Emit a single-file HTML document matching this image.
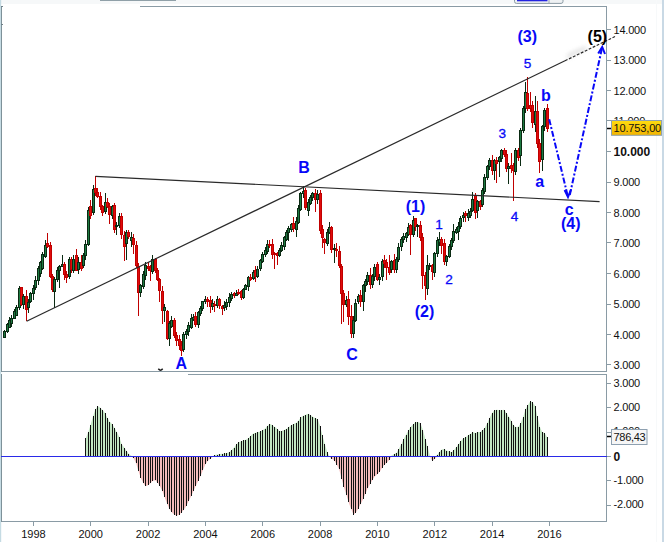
<!DOCTYPE html>
<html><head><meta charset="utf-8"><style>
html,body{margin:0;padding:0;background:#fff;width:664px;height:542px;overflow:hidden;position:relative}
text{font-family:"Liberation Sans",sans-serif}
</style></head><body>
<svg width="664" height="542" viewBox="0 0 664 542" style="position:absolute;left:0;top:0">
<rect x="0" y="0" width="664" height="4" fill="#f6f8f9"/>
<rect x="0" y="0" width="1.2" height="542" fill="#c5dbe3"/>
<rect x="662" y="0" width="2" height="542" fill="#c9d9e5"/>
<rect x="656" y="0" width="1" height="542" fill="#f7f9fa"/>
<rect x="100" y="0" width="76" height="1" fill="#90a0a8"/>
<rect x="514.5" y="-3" width="48.5" height="6.4" rx="2" fill="#eef1f3" stroke="#8a9aa4" stroke-width="1"/>
<rect x="517" y="0" width="30.5" height="1.3" fill="#2424e0"/>
<rect x="548.5" y="-1" width="1" height="4" fill="#9aa8b0"/>
<g shape-rendering="crispEdges">
<line x1="140" y1="6.5" x2="607" y2="6.5" stroke="#8a9ba5" stroke-width="1"/>
<line x1="606.5" y1="6" x2="606.5" y2="371.5" stroke="#8a9ba5" stroke-width="1"/>
<line x1="1" y1="371.5" x2="607" y2="371.5" stroke="#8a9ba5" stroke-width="1"/>
<line x1="1.5" y1="6" x2="1.5" y2="371.5" stroke="#7e9199" stroke-width="1"/>
<line x1="188" y1="374.5" x2="607" y2="374.5" stroke="#8a9ba5" stroke-width="1"/>
<line x1="606.5" y1="374" x2="606.5" y2="521.5" stroke="#8a9ba5" stroke-width="1"/>
<line x1="1" y1="521.5" x2="607" y2="521.5" stroke="#8a9ba5" stroke-width="1"/>
<line x1="1.5" y1="374" x2="1.5" y2="521.5" stroke="#7e9199" stroke-width="1"/>
<line x1="1" y1="6.5" x2="3" y2="6.5" stroke="#6f8189" stroke-width="1"/>
<line x1="1" y1="24.5" x2="3" y2="24.5" stroke="#6f8189" stroke-width="1"/>
</g>
<g shape-rendering="crispEdges">
<line x1="607" y1="364.5" x2="611" y2="364.5" stroke="#8a9ba5" stroke-width="1"/>
<line x1="607" y1="334.5" x2="611" y2="334.5" stroke="#8a9ba5" stroke-width="1"/>
<line x1="607" y1="304.5" x2="611" y2="304.5" stroke="#8a9ba5" stroke-width="1"/>
<line x1="607" y1="273.5" x2="611" y2="273.5" stroke="#8a9ba5" stroke-width="1"/>
<line x1="607" y1="242.5" x2="611" y2="242.5" stroke="#8a9ba5" stroke-width="1"/>
<line x1="607" y1="212.5" x2="611" y2="212.5" stroke="#8a9ba5" stroke-width="1"/>
<line x1="607" y1="182.5" x2="611" y2="182.5" stroke="#8a9ba5" stroke-width="1"/>
<line x1="607" y1="151.5" x2="611" y2="151.5" stroke="#8a9ba5" stroke-width="1"/>
<line x1="607" y1="120.5" x2="611" y2="120.5" stroke="#8a9ba5" stroke-width="1"/>
<line x1="607" y1="90.5" x2="611" y2="90.5" stroke="#8a9ba5" stroke-width="1"/>
<line x1="607" y1="60.5" x2="611" y2="60.5" stroke="#8a9ba5" stroke-width="1"/>
<line x1="607" y1="29.5" x2="611" y2="29.5" stroke="#8a9ba5" stroke-width="1"/>
</g>
<g font-family="Liberation Sans, sans-serif" font-size="11" fill="#111" letter-spacing="-0.2">
<text x="613.5" y="369.0">3.000</text>
<text x="613.5" y="338.5">4.000</text>
<text x="613.5" y="308.0">5.000</text>
<text x="613.5" y="277.5">6.000</text>
<text x="613.5" y="247.0">7.000</text>
<text x="613.5" y="216.5">8.000</text>
<text x="613.5" y="186.0">9.000</text>
<text x="613.5" y="155.7" font-weight="bold" font-size="12" letter-spacing="0">10.000</text>
<text x="613.5" y="125.0">11.000</text>
<text x="613.5" y="94.5">12.000</text>
<text x="613.5" y="64.0">13.000</text>
<text x="613.5" y="33.5">14.000</text>
<text x="613.5" y="386.6">3.000</text>
<text x="613.5" y="411.0">2.000</text>
<text x="613.5" y="435.3">1.000</text>
<text x="613.5" y="460.6" font-weight="bold" font-size="12" letter-spacing="0">0</text>
<text x="613.5" y="484.1">-1.000</text>
<text x="613.5" y="508.4">-2.000</text>
</g>
<g font-family="Liberation Sans, sans-serif" font-size="11" fill="#111">
<text x="33.4" y="538" text-anchor="middle">1998</text>
<text x="90.7" y="538" text-anchor="middle">2000</text>
<text x="148.1" y="538" text-anchor="middle">2002</text>
<text x="205.4" y="538" text-anchor="middle">2004</text>
<text x="262.8" y="538" text-anchor="middle">2006</text>
<text x="320.1" y="538" text-anchor="middle">2008</text>
<text x="377.4" y="538" text-anchor="middle">2010</text>
<text x="434.8" y="538" text-anchor="middle">2012</text>
<text x="492.1" y="538" text-anchor="middle">2014</text>
<text x="549.5" y="538" text-anchor="middle">2016</text>
</g>
<g shape-rendering="crispEdges">
<line x1="607" y1="383.5" x2="611" y2="383.5" stroke="#8a9ba5" stroke-width="1"/>
<line x1="607" y1="407.5" x2="611" y2="407.5" stroke="#8a9ba5" stroke-width="1"/>
<line x1="607" y1="432.5" x2="611" y2="432.5" stroke="#8a9ba5" stroke-width="1"/>
<line x1="607" y1="456.5" x2="611" y2="456.5" stroke="#8a9ba5" stroke-width="1"/>
<line x1="607" y1="480.5" x2="611" y2="480.5" stroke="#8a9ba5" stroke-width="1"/>
<line x1="607" y1="505.5" x2="611" y2="505.5" stroke="#8a9ba5" stroke-width="1"/>
<line x1="33.5" y1="521.5" x2="33.5" y2="525.5" stroke="#8a9ba5" stroke-width="1"/>
<line x1="90.5" y1="521.5" x2="90.5" y2="525.5" stroke="#8a9ba5" stroke-width="1"/>
<line x1="148.5" y1="521.5" x2="148.5" y2="525.5" stroke="#8a9ba5" stroke-width="1"/>
<line x1="205.5" y1="521.5" x2="205.5" y2="525.5" stroke="#8a9ba5" stroke-width="1"/>
<line x1="262.5" y1="521.5" x2="262.5" y2="525.5" stroke="#8a9ba5" stroke-width="1"/>
<line x1="320.5" y1="521.5" x2="320.5" y2="525.5" stroke="#8a9ba5" stroke-width="1"/>
<line x1="377.5" y1="521.5" x2="377.5" y2="525.5" stroke="#8a9ba5" stroke-width="1"/>
<line x1="434.5" y1="521.5" x2="434.5" y2="525.5" stroke="#8a9ba5" stroke-width="1"/>
<line x1="492.5" y1="521.5" x2="492.5" y2="525.5" stroke="#8a9ba5" stroke-width="1"/>
<line x1="549.5" y1="521.5" x2="549.5" y2="525.5" stroke="#8a9ba5" stroke-width="1"/>
</g>
<polygon points="85.93,456.40 85.93,437.97 88.31,431.66 90.70,424.49 93.09,415.93 95.48,409.18 97.87,406.21 100.26,407.67 102.65,410.06 105.04,413.27 107.43,417.99 109.82,421.66 112.20,424.32 114.59,427.96 116.98,432.37 119.37,437.14 121.76,444.28 124.15,447.53 126.54,450.72 128.93,453.90 131.32,455.74 133.71,456.40 136.09,456.40 138.48,456.40 140.87,456.40 143.26,456.40 145.65,456.40 148.04,456.40 150.43,456.40 152.82,456.40 155.21,456.40 157.60,456.40 159.98,456.40 162.37,456.40 164.76,456.40 167.15,456.40 169.54,456.40 171.93,456.40 174.32,456.40 176.71,456.40 179.10,456.40 181.49,456.40 183.87,456.40 186.26,456.40 188.65,456.40 191.04,456.40 193.43,456.40 195.82,456.40 198.21,456.40 200.60,456.40 202.99,456.40 205.38,456.40 207.76,456.40 210.15,456.40 212.54,456.40 214.93,455.12 217.32,454.52 219.71,453.97 222.10,453.72 224.49,453.44 226.88,452.94 229.27,452.26 231.65,450.02 234.04,447.47 236.43,444.29 238.82,442.22 241.21,441.18 243.60,440.19 245.99,439.83 248.38,438.16 250.77,435.78 253.16,433.53 255.54,432.85 257.93,432.18 260.32,431.43 262.71,430.18 265.10,428.52 267.49,425.85 269.88,423.82 272.27,425.24 274.66,426.73 277.05,428.87 279.43,431.00 281.82,430.90 284.21,429.94 286.60,428.69 288.99,426.89 291.38,425.09 293.77,423.90 296.16,422.75 298.55,420.55 300.94,417.38 303.32,415.80 305.71,414.82 308.10,413.84 310.49,414.95 312.88,416.75 315.27,418.22 317.66,419.10 320.05,426.31 322.44,435.26 324.83,443.98 327.21,451.89 329.60,456.40 331.99,456.40 334.38,456.40 336.77,456.40 339.16,456.40 341.55,456.40 343.94,456.40 346.33,456.40 348.72,456.40 351.10,456.40 353.49,456.40 355.88,456.40 358.27,456.40 360.66,456.40 363.05,456.40 365.44,456.40 367.83,456.40 370.22,456.40 372.61,456.40 374.99,456.40 377.38,456.40 379.77,456.40 382.16,456.40 384.55,456.40 386.94,456.40 389.33,456.40 391.72,455.51 394.11,453.92 396.50,452.67 398.88,449.04 401.27,444.13 403.66,439.27 406.05,434.50 408.44,430.38 410.83,426.67 413.22,424.28 415.61,421.90 418.00,422.26 420.39,423.10 422.77,429.53 425.16,438.58 427.55,446.43 429.94,455.66 432.33,456.40 434.72,456.40 437.11,454.89 439.50,451.87 441.89,449.51 444.28,448.92 446.66,450.52 449.05,451.29 451.44,452.14 453.83,450.21 456.22,447.17 458.61,443.89 461.00,441.04 463.39,438.31 465.78,437.14 468.17,435.13 470.55,433.74 472.94,432.35 475.33,433.09 477.72,432.32 480.11,432.08 482.50,430.30 484.89,427.73 487.28,423.02 489.67,417.67 492.06,413.01 494.44,410.16 496.83,409.64 499.22,410.20 501.61,410.13 504.00,409.87 506.39,413.07 508.78,416.47 511.17,420.47 513.56,425.21 515.95,427.30 518.34,426.73 520.72,423.22 523.11,417.12 525.50,409.25 527.89,405.15 530.28,401.33 532.67,402.44 535.06,405.93 537.45,416.42 539.84,426.85 542.23,432.30 544.61,432.72 547.00,437.20 547.00,456.40" fill="#c4e6c4"/>
<polygon points="85.93,456.40 85.93,456.40 88.31,456.40 90.70,456.40 93.09,456.40 95.48,456.40 97.87,456.40 100.26,456.40 102.65,456.40 105.04,456.40 107.43,456.40 109.82,456.40 112.20,456.40 114.59,456.40 116.98,456.40 119.37,456.40 121.76,456.40 124.15,456.40 126.54,456.40 128.93,456.40 131.32,456.40 133.71,458.27 136.09,463.34 138.48,471.37 140.87,477.89 143.26,483.01 145.65,486.26 148.04,485.17 150.43,483.25 152.82,480.81 155.21,480.21 157.60,482.60 159.98,486.31 162.37,491.06 164.76,497.43 167.15,503.86 169.54,509.27 171.93,512.39 174.32,514.60 176.71,515.67 179.10,514.54 181.49,512.46 183.87,509.73 186.26,505.68 188.65,501.14 191.04,496.34 193.43,491.23 195.82,485.98 198.21,480.77 200.60,475.92 202.99,470.00 205.38,464.27 207.76,461.11 210.15,458.79 212.54,456.91 214.93,456.40 217.32,456.40 219.71,456.40 222.10,456.40 224.49,456.40 226.88,456.40 229.27,456.40 231.65,456.40 234.04,456.40 236.43,456.40 238.82,456.40 241.21,456.40 243.60,456.40 245.99,456.40 248.38,456.40 250.77,456.40 253.16,456.40 255.54,456.40 257.93,456.40 260.32,456.40 262.71,456.40 265.10,456.40 267.49,456.40 269.88,456.40 272.27,456.40 274.66,456.40 277.05,456.40 279.43,456.40 281.82,456.40 284.21,456.40 286.60,456.40 288.99,456.40 291.38,456.40 293.77,456.40 296.16,456.40 298.55,456.40 300.94,456.40 303.32,456.40 305.71,456.40 308.10,456.40 310.49,456.40 312.88,456.40 315.27,456.40 317.66,456.40 320.05,456.40 322.44,456.40 324.83,456.40 327.21,456.40 329.60,457.05 331.99,458.77 334.38,460.87 336.77,464.54 339.16,469.32 341.55,478.71 343.94,486.97 346.33,494.69 348.72,502.41 351.10,508.89 353.49,514.72 355.88,512.60 358.27,508.83 360.66,504.10 363.05,499.30 365.44,493.54 367.83,488.34 370.22,483.78 372.61,479.45 374.99,476.31 377.38,474.35 379.77,471.72 382.16,467.45 384.55,464.47 386.94,462.75 389.33,459.63 391.72,456.40 394.11,456.40 396.50,456.40 398.88,456.40 401.27,456.40 403.66,456.40 406.05,456.40 408.44,456.40 410.83,456.40 413.22,456.40 415.61,456.40 418.00,456.40 420.39,456.40 422.77,456.40 425.16,456.40 427.55,456.40 429.94,456.40 432.33,461.07 434.72,458.92 437.11,456.40 439.50,456.40 441.89,456.40 444.28,456.40 446.66,456.40 449.05,456.40 451.44,456.40 453.83,456.40 456.22,456.40 458.61,456.40 461.00,456.40 463.39,456.40 465.78,456.40 468.17,456.40 470.55,456.40 472.94,456.40 475.33,456.40 477.72,456.40 480.11,456.40 482.50,456.40 484.89,456.40 487.28,456.40 489.67,456.40 492.06,456.40 494.44,456.40 496.83,456.40 499.22,456.40 501.61,456.40 504.00,456.40 506.39,456.40 508.78,456.40 511.17,456.40 513.56,456.40 515.95,456.40 518.34,456.40 520.72,456.40 523.11,456.40 525.50,456.40 527.89,456.40 530.28,456.40 532.67,456.40 535.06,456.40 537.45,456.40 539.84,456.40 542.23,456.40 544.61,456.40 547.00,456.40 547.00,456.40" fill="#f4bcbc"/>
<g shape-rendering="crispEdges" stroke="#111" stroke-width="1">
<line x1="85.5" y1="456.4" x2="85.5" y2="438.0"/>
<line x1="88.5" y1="456.4" x2="88.5" y2="431.7"/>
<line x1="90.5" y1="456.4" x2="90.5" y2="424.5"/>
<line x1="93.5" y1="456.4" x2="93.5" y2="415.9"/>
<line x1="95.5" y1="456.4" x2="95.5" y2="409.2"/>
<line x1="97.5" y1="456.4" x2="97.5" y2="406.2"/>
<line x1="100.5" y1="456.4" x2="100.5" y2="407.7"/>
<line x1="102.5" y1="456.4" x2="102.5" y2="410.1"/>
<line x1="105.5" y1="456.4" x2="105.5" y2="413.3"/>
<line x1="107.5" y1="456.4" x2="107.5" y2="418.0"/>
<line x1="109.5" y1="456.4" x2="109.5" y2="421.7"/>
<line x1="112.5" y1="456.4" x2="112.5" y2="424.3"/>
<line x1="114.5" y1="456.4" x2="114.5" y2="428.0"/>
<line x1="116.5" y1="456.4" x2="116.5" y2="432.4"/>
<line x1="119.5" y1="456.4" x2="119.5" y2="437.1"/>
<line x1="121.5" y1="456.4" x2="121.5" y2="444.3"/>
<line x1="124.5" y1="456.4" x2="124.5" y2="447.5"/>
<line x1="126.5" y1="456.4" x2="126.5" y2="450.7"/>
<line x1="128.5" y1="456.4" x2="128.5" y2="453.9"/>
<line x1="131.5" y1="456.4" x2="131.5" y2="455.7"/>
<line x1="133.5" y1="456.4" x2="133.5" y2="458.3"/>
<line x1="136.5" y1="456.4" x2="136.5" y2="463.3"/>
<line x1="138.5" y1="456.4" x2="138.5" y2="471.4"/>
<line x1="140.5" y1="456.4" x2="140.5" y2="477.9"/>
<line x1="143.5" y1="456.4" x2="143.5" y2="483.0"/>
<line x1="145.5" y1="456.4" x2="145.5" y2="486.3"/>
<line x1="148.5" y1="456.4" x2="148.5" y2="485.2"/>
<line x1="150.5" y1="456.4" x2="150.5" y2="483.3"/>
<line x1="152.5" y1="456.4" x2="152.5" y2="480.8"/>
<line x1="155.5" y1="456.4" x2="155.5" y2="480.2"/>
<line x1="157.5" y1="456.4" x2="157.5" y2="482.6"/>
<line x1="159.5" y1="456.4" x2="159.5" y2="486.3"/>
<line x1="162.5" y1="456.4" x2="162.5" y2="491.1"/>
<line x1="164.5" y1="456.4" x2="164.5" y2="497.4"/>
<line x1="167.5" y1="456.4" x2="167.5" y2="503.9"/>
<line x1="169.5" y1="456.4" x2="169.5" y2="509.3"/>
<line x1="171.5" y1="456.4" x2="171.5" y2="512.4"/>
<line x1="174.5" y1="456.4" x2="174.5" y2="514.6"/>
<line x1="176.5" y1="456.4" x2="176.5" y2="515.7"/>
<line x1="179.5" y1="456.4" x2="179.5" y2="514.5"/>
<line x1="181.5" y1="456.4" x2="181.5" y2="512.5"/>
<line x1="183.5" y1="456.4" x2="183.5" y2="509.7"/>
<line x1="186.5" y1="456.4" x2="186.5" y2="505.7"/>
<line x1="188.5" y1="456.4" x2="188.5" y2="501.1"/>
<line x1="191.5" y1="456.4" x2="191.5" y2="496.3"/>
<line x1="193.5" y1="456.4" x2="193.5" y2="491.2"/>
<line x1="195.5" y1="456.4" x2="195.5" y2="486.0"/>
<line x1="198.5" y1="456.4" x2="198.5" y2="480.8"/>
<line x1="200.5" y1="456.4" x2="200.5" y2="475.9"/>
<line x1="202.5" y1="456.4" x2="202.5" y2="470.0"/>
<line x1="205.5" y1="456.4" x2="205.5" y2="464.3"/>
<line x1="207.5" y1="456.4" x2="207.5" y2="461.1"/>
<line x1="210.5" y1="456.4" x2="210.5" y2="458.8"/>
<line x1="212.5" y1="456.4" x2="212.5" y2="456.9"/>
<line x1="214.5" y1="456.4" x2="214.5" y2="455.1"/>
<line x1="217.5" y1="456.4" x2="217.5" y2="454.5"/>
<line x1="219.5" y1="456.4" x2="219.5" y2="454.0"/>
<line x1="222.5" y1="456.4" x2="222.5" y2="453.7"/>
<line x1="224.5" y1="456.4" x2="224.5" y2="453.4"/>
<line x1="226.5" y1="456.4" x2="226.5" y2="452.9"/>
<line x1="229.5" y1="456.4" x2="229.5" y2="452.3"/>
<line x1="231.5" y1="456.4" x2="231.5" y2="450.0"/>
<line x1="234.5" y1="456.4" x2="234.5" y2="447.5"/>
<line x1="236.5" y1="456.4" x2="236.5" y2="444.3"/>
<line x1="238.5" y1="456.4" x2="238.5" y2="442.2"/>
<line x1="241.5" y1="456.4" x2="241.5" y2="441.2"/>
<line x1="243.5" y1="456.4" x2="243.5" y2="440.2"/>
<line x1="245.5" y1="456.4" x2="245.5" y2="439.8"/>
<line x1="248.5" y1="456.4" x2="248.5" y2="438.2"/>
<line x1="250.5" y1="456.4" x2="250.5" y2="435.8"/>
<line x1="253.5" y1="456.4" x2="253.5" y2="433.5"/>
<line x1="255.5" y1="456.4" x2="255.5" y2="432.9"/>
<line x1="257.5" y1="456.4" x2="257.5" y2="432.2"/>
<line x1="260.5" y1="456.4" x2="260.5" y2="431.4"/>
<line x1="262.5" y1="456.4" x2="262.5" y2="430.2"/>
<line x1="265.5" y1="456.4" x2="265.5" y2="428.5"/>
<line x1="267.5" y1="456.4" x2="267.5" y2="425.8"/>
<line x1="269.5" y1="456.4" x2="269.5" y2="423.8"/>
<line x1="272.5" y1="456.4" x2="272.5" y2="425.2"/>
<line x1="274.5" y1="456.4" x2="274.5" y2="426.7"/>
<line x1="277.5" y1="456.4" x2="277.5" y2="428.9"/>
<line x1="279.5" y1="456.4" x2="279.5" y2="431.0"/>
<line x1="281.5" y1="456.4" x2="281.5" y2="430.9"/>
<line x1="284.5" y1="456.4" x2="284.5" y2="429.9"/>
<line x1="286.5" y1="456.4" x2="286.5" y2="428.7"/>
<line x1="288.5" y1="456.4" x2="288.5" y2="426.9"/>
<line x1="291.5" y1="456.4" x2="291.5" y2="425.1"/>
<line x1="293.5" y1="456.4" x2="293.5" y2="423.9"/>
<line x1="296.5" y1="456.4" x2="296.5" y2="422.8"/>
<line x1="298.5" y1="456.4" x2="298.5" y2="420.5"/>
<line x1="300.5" y1="456.4" x2="300.5" y2="417.4"/>
<line x1="303.5" y1="456.4" x2="303.5" y2="415.8"/>
<line x1="305.5" y1="456.4" x2="305.5" y2="414.8"/>
<line x1="308.5" y1="456.4" x2="308.5" y2="413.8"/>
<line x1="310.5" y1="456.4" x2="310.5" y2="415.0"/>
<line x1="312.5" y1="456.4" x2="312.5" y2="416.8"/>
<line x1="315.5" y1="456.4" x2="315.5" y2="418.2"/>
<line x1="317.5" y1="456.4" x2="317.5" y2="419.1"/>
<line x1="320.5" y1="456.4" x2="320.5" y2="426.3"/>
<line x1="322.5" y1="456.4" x2="322.5" y2="435.3"/>
<line x1="324.5" y1="456.4" x2="324.5" y2="444.0"/>
<line x1="327.5" y1="456.4" x2="327.5" y2="451.9"/>
<line x1="329.5" y1="456.4" x2="329.5" y2="457.0"/>
<line x1="331.5" y1="456.4" x2="331.5" y2="458.8"/>
<line x1="334.5" y1="456.4" x2="334.5" y2="460.9"/>
<line x1="336.5" y1="456.4" x2="336.5" y2="464.5"/>
<line x1="339.5" y1="456.4" x2="339.5" y2="469.3"/>
<line x1="341.5" y1="456.4" x2="341.5" y2="478.7"/>
<line x1="343.5" y1="456.4" x2="343.5" y2="487.0"/>
<line x1="346.5" y1="456.4" x2="346.5" y2="494.7"/>
<line x1="348.5" y1="456.4" x2="348.5" y2="502.4"/>
<line x1="351.5" y1="456.4" x2="351.5" y2="508.9"/>
<line x1="353.5" y1="456.4" x2="353.5" y2="514.7"/>
<line x1="355.5" y1="456.4" x2="355.5" y2="512.6"/>
<line x1="358.5" y1="456.4" x2="358.5" y2="508.8"/>
<line x1="360.5" y1="456.4" x2="360.5" y2="504.1"/>
<line x1="363.5" y1="456.4" x2="363.5" y2="499.3"/>
<line x1="365.5" y1="456.4" x2="365.5" y2="493.5"/>
<line x1="367.5" y1="456.4" x2="367.5" y2="488.3"/>
<line x1="370.5" y1="456.4" x2="370.5" y2="483.8"/>
<line x1="372.5" y1="456.4" x2="372.5" y2="479.5"/>
<line x1="374.5" y1="456.4" x2="374.5" y2="476.3"/>
<line x1="377.5" y1="456.4" x2="377.5" y2="474.4"/>
<line x1="379.5" y1="456.4" x2="379.5" y2="471.7"/>
<line x1="382.5" y1="456.4" x2="382.5" y2="467.5"/>
<line x1="384.5" y1="456.4" x2="384.5" y2="464.5"/>
<line x1="386.5" y1="456.4" x2="386.5" y2="462.7"/>
<line x1="389.5" y1="456.4" x2="389.5" y2="459.6"/>
<line x1="391.5" y1="456.4" x2="391.5" y2="455.5"/>
<line x1="394.5" y1="456.4" x2="394.5" y2="453.9"/>
<line x1="396.5" y1="456.4" x2="396.5" y2="452.7"/>
<line x1="398.5" y1="456.4" x2="398.5" y2="449.0"/>
<line x1="401.5" y1="456.4" x2="401.5" y2="444.1"/>
<line x1="403.5" y1="456.4" x2="403.5" y2="439.3"/>
<line x1="406.5" y1="456.4" x2="406.5" y2="434.5"/>
<line x1="408.5" y1="456.4" x2="408.5" y2="430.4"/>
<line x1="410.5" y1="456.4" x2="410.5" y2="426.7"/>
<line x1="413.5" y1="456.4" x2="413.5" y2="424.3"/>
<line x1="415.5" y1="456.4" x2="415.5" y2="421.9"/>
<line x1="417.5" y1="456.4" x2="417.5" y2="422.3"/>
<line x1="420.5" y1="456.4" x2="420.5" y2="423.1"/>
<line x1="422.5" y1="456.4" x2="422.5" y2="429.5"/>
<line x1="425.5" y1="456.4" x2="425.5" y2="438.6"/>
<line x1="427.5" y1="456.4" x2="427.5" y2="446.4"/>
<line x1="429.5" y1="456.4" x2="429.5" y2="455.7"/>
<line x1="432.5" y1="456.4" x2="432.5" y2="461.1"/>
<line x1="434.5" y1="456.4" x2="434.5" y2="458.9"/>
<line x1="437.5" y1="456.4" x2="437.5" y2="454.9"/>
<line x1="439.5" y1="456.4" x2="439.5" y2="451.9"/>
<line x1="441.5" y1="456.4" x2="441.5" y2="449.5"/>
<line x1="444.5" y1="456.4" x2="444.5" y2="448.9"/>
<line x1="446.5" y1="456.4" x2="446.5" y2="450.5"/>
<line x1="449.5" y1="456.4" x2="449.5" y2="451.3"/>
<line x1="451.5" y1="456.4" x2="451.5" y2="452.1"/>
<line x1="453.5" y1="456.4" x2="453.5" y2="450.2"/>
<line x1="456.5" y1="456.4" x2="456.5" y2="447.2"/>
<line x1="458.5" y1="456.4" x2="458.5" y2="443.9"/>
<line x1="460.5" y1="456.4" x2="460.5" y2="441.0"/>
<line x1="463.5" y1="456.4" x2="463.5" y2="438.3"/>
<line x1="465.5" y1="456.4" x2="465.5" y2="437.1"/>
<line x1="468.5" y1="456.4" x2="468.5" y2="435.1"/>
<line x1="470.5" y1="456.4" x2="470.5" y2="433.7"/>
<line x1="472.5" y1="456.4" x2="472.5" y2="432.3"/>
<line x1="475.5" y1="456.4" x2="475.5" y2="433.1"/>
<line x1="477.5" y1="456.4" x2="477.5" y2="432.3"/>
<line x1="480.5" y1="456.4" x2="480.5" y2="432.1"/>
<line x1="482.5" y1="456.4" x2="482.5" y2="430.3"/>
<line x1="484.5" y1="456.4" x2="484.5" y2="427.7"/>
<line x1="487.5" y1="456.4" x2="487.5" y2="423.0"/>
<line x1="489.5" y1="456.4" x2="489.5" y2="417.7"/>
<line x1="492.5" y1="456.4" x2="492.5" y2="413.0"/>
<line x1="494.5" y1="456.4" x2="494.5" y2="410.2"/>
<line x1="496.5" y1="456.4" x2="496.5" y2="409.6"/>
<line x1="499.5" y1="456.4" x2="499.5" y2="410.2"/>
<line x1="501.5" y1="456.4" x2="501.5" y2="410.1"/>
<line x1="504.5" y1="456.4" x2="504.5" y2="409.9"/>
<line x1="506.5" y1="456.4" x2="506.5" y2="413.1"/>
<line x1="508.5" y1="456.4" x2="508.5" y2="416.5"/>
<line x1="511.5" y1="456.4" x2="511.5" y2="420.5"/>
<line x1="513.5" y1="456.4" x2="513.5" y2="425.2"/>
<line x1="515.5" y1="456.4" x2="515.5" y2="427.3"/>
<line x1="518.5" y1="456.4" x2="518.5" y2="426.7"/>
<line x1="520.5" y1="456.4" x2="520.5" y2="423.2"/>
<line x1="523.5" y1="456.4" x2="523.5" y2="417.1"/>
<line x1="525.5" y1="456.4" x2="525.5" y2="409.3"/>
<line x1="527.5" y1="456.4" x2="527.5" y2="405.2"/>
<line x1="530.5" y1="456.4" x2="530.5" y2="401.3"/>
<line x1="532.5" y1="456.4" x2="532.5" y2="402.4"/>
<line x1="535.5" y1="456.4" x2="535.5" y2="405.9"/>
<line x1="537.5" y1="456.4" x2="537.5" y2="416.4"/>
<line x1="539.5" y1="456.4" x2="539.5" y2="426.9"/>
<line x1="542.5" y1="456.4" x2="542.5" y2="432.3"/>
<line x1="544.5" y1="456.4" x2="544.5" y2="432.7"/>
<line x1="547.5" y1="456.4" x2="547.5" y2="437.2"/>
</g>
<line x1="1" y1="456.5" x2="607" y2="456.5" stroke="#2a2ae8" stroke-width="1" shape-rendering="crispEdges"/>
<g shape-rendering="crispEdges">
<line x1="4.5" y1="330.0" x2="4.5" y2="338.0" stroke="#0a2a12"/>
<rect x="3.5" y="331.0" width="2" height="6.0" fill="#1d7a42" stroke="#0a2a12" stroke-width="1"/>
<line x1="7.5" y1="322.6" x2="7.5" y2="332.5" stroke="#0a2a12"/>
<rect x="6.5" y="324.7" width="2" height="6.3" fill="#1d7a42" stroke="#0a2a12" stroke-width="1"/>
<line x1="9.5" y1="317.0" x2="9.5" y2="328.3" stroke="#0a2a12"/>
<rect x="8.5" y="320.3" width="2" height="6.7" fill="#1d7a42" stroke="#0a2a12" stroke-width="1"/>
<line x1="11.5" y1="315.1" x2="11.5" y2="327.0" stroke="#0a2a12"/>
<rect x="10.5" y="318.0" width="2" height="5.3" fill="#1d7a42" stroke="#0a2a12" stroke-width="1"/>
<line x1="14.5" y1="309.1" x2="14.5" y2="319.2" stroke="#0a2a12"/>
<rect x="13.5" y="311.4" width="2" height="6.6" fill="#1d7a42" stroke="#0a2a12" stroke-width="1"/>
<line x1="16.5" y1="305.0" x2="16.5" y2="316.1" stroke="#0a2a12"/>
<rect x="15.5" y="307.8" width="2" height="7.2" fill="#1d7a42" stroke="#0a2a12" stroke-width="1"/>
<line x1="19.5" y1="286.0" x2="19.5" y2="309.5" stroke="#0a2a12"/>
<rect x="18.5" y="288.6" width="2" height="18.4" fill="#1d7a42" stroke="#0a2a12" stroke-width="1"/>
<line x1="21.5" y1="286.6" x2="21.5" y2="306.1" stroke="#c00000"/>
<rect x="20.5" y="287.8" width="2" height="17.0" fill="#e00c0c" stroke="#c00000" stroke-width="1"/>
<line x1="23.5" y1="294.2" x2="23.5" y2="309.2" stroke="#0a2a12"/>
<rect x="22.5" y="296.7" width="2" height="8.1" fill="#1d7a42" stroke="#0a2a12" stroke-width="1"/>
<line x1="26.5" y1="290.0" x2="26.5" y2="321.0" stroke="#c00000"/>
<rect x="25.5" y="296.0" width="2" height="13.2" fill="#e00c0c" stroke="#c00000" stroke-width="1"/>
<line x1="28.5" y1="298.7" x2="28.5" y2="313.0" stroke="#0a2a12"/>
<rect x="27.5" y="302.6" width="2" height="4.4" fill="#1d7a42" stroke="#0a2a12" stroke-width="1"/>
<line x1="30.5" y1="291.6" x2="30.5" y2="302.8" stroke="#0a2a12"/>
<rect x="29.5" y="293.0" width="2" height="8.0" fill="#1d7a42" stroke="#0a2a12" stroke-width="1"/>
<line x1="33.5" y1="285.4" x2="33.5" y2="299.6" stroke="#0a2a12"/>
<rect x="32.5" y="288.6" width="2" height="4.4" fill="#1d7a42" stroke="#0a2a12" stroke-width="1"/>
<line x1="35.5" y1="276.2" x2="35.5" y2="290.0" stroke="#0a2a12"/>
<rect x="34.5" y="280.5" width="2" height="6.5" fill="#1d7a42" stroke="#0a2a12" stroke-width="1"/>
<line x1="38.5" y1="265.6" x2="38.5" y2="284.9" stroke="#0a2a12"/>
<rect x="37.5" y="268.0" width="2" height="12.5" fill="#1d7a42" stroke="#0a2a12" stroke-width="1"/>
<line x1="40.5" y1="260.8" x2="40.5" y2="277.0" stroke="#0a2a12"/>
<rect x="39.5" y="262.0" width="2" height="11.0" fill="#1d7a42" stroke="#0a2a12" stroke-width="1"/>
<line x1="42.5" y1="252.0" x2="42.5" y2="269.5" stroke="#0a2a12"/>
<rect x="41.5" y="254.0" width="2" height="14.0" fill="#1d7a42" stroke="#0a2a12" stroke-width="1"/>
<line x1="45.5" y1="240.0" x2="45.5" y2="257.9" stroke="#0a2a12"/>
<rect x="44.5" y="245.0" width="2" height="11.5" fill="#1d7a42" stroke="#0a2a12" stroke-width="1"/>
<line x1="47.5" y1="233.0" x2="47.5" y2="248.1" stroke="#c00000"/>
<rect x="46.5" y="243.0" width="2" height="3.0" fill="#e00c0c" stroke="#c00000" stroke-width="1"/>
<line x1="50.5" y1="241.8" x2="50.5" y2="278.1" stroke="#c00000"/>
<rect x="49.5" y="245.7" width="2" height="30.8" fill="#e00c0c" stroke="#c00000" stroke-width="1"/>
<line x1="52.5" y1="273.5" x2="52.5" y2="292.2" stroke="#c00000"/>
<rect x="51.5" y="276.5" width="2" height="12.5" fill="#e00c0c" stroke="#c00000" stroke-width="1"/>
<line x1="54.5" y1="276.7" x2="54.5" y2="308.0" stroke="#0a2a12"/>
<rect x="53.5" y="279.0" width="2" height="12.4" fill="#1d7a42" stroke="#0a2a12" stroke-width="1"/>
<line x1="57.5" y1="267.1" x2="57.5" y2="282.0" stroke="#0a2a12"/>
<rect x="56.5" y="270.0" width="2" height="9.0" fill="#1d7a42" stroke="#0a2a12" stroke-width="1"/>
<line x1="59.5" y1="264.8" x2="59.5" y2="288.0" stroke="#0a2a12"/>
<rect x="58.5" y="266.0" width="2" height="4.0" fill="#1d7a42" stroke="#0a2a12" stroke-width="1"/>
<line x1="62.5" y1="255.0" x2="62.5" y2="267.2" stroke="#0a2a12"/>
<rect x="61.5" y="264.0" width="2" height="2.0" fill="#1d7a42" stroke="#0a2a12" stroke-width="1"/>
<line x1="64.5" y1="262.3" x2="64.5" y2="280.0" stroke="#c00000"/>
<rect x="63.5" y="264.0" width="2" height="10.0" fill="#e00c0c" stroke="#c00000" stroke-width="1"/>
<line x1="66.5" y1="270.6" x2="66.5" y2="283.0" stroke="#c00000"/>
<rect x="65.5" y="274.0" width="2" height="3.0" fill="#e00c0c" stroke="#c00000" stroke-width="1"/>
<line x1="69.5" y1="256.5" x2="69.5" y2="278.6" stroke="#0a2a12"/>
<rect x="68.5" y="259.0" width="2" height="17.5" fill="#1d7a42" stroke="#0a2a12" stroke-width="1"/>
<line x1="71.5" y1="257.4" x2="71.5" y2="272.6" stroke="#c00000"/>
<rect x="70.5" y="259.2" width="2" height="10.4" fill="#e00c0c" stroke="#c00000" stroke-width="1"/>
<line x1="73.5" y1="255.0" x2="73.5" y2="272.5" stroke="#0a2a12"/>
<rect x="72.5" y="259.6" width="2" height="10.7" fill="#1d7a42" stroke="#0a2a12" stroke-width="1"/>
<line x1="76.5" y1="249.2" x2="76.5" y2="271.0" stroke="#c00000"/>
<rect x="75.5" y="255.9" width="2" height="14.4" fill="#e00c0c" stroke="#c00000" stroke-width="1"/>
<line x1="78.5" y1="257.4" x2="78.5" y2="273.6" stroke="#0a2a12"/>
<rect x="77.5" y="262.5" width="2" height="7.1" fill="#1d7a42" stroke="#0a2a12" stroke-width="1"/>
<line x1="81.5" y1="255.0" x2="81.5" y2="270.6" stroke="#c00000"/>
<rect x="80.5" y="262.0" width="2" height="6.0" fill="#e00c0c" stroke="#c00000" stroke-width="1"/>
<line x1="83.5" y1="253.0" x2="83.5" y2="268.0" stroke="#0a2a12"/>
<rect x="82.5" y="255.0" width="2" height="10.5" fill="#1d7a42" stroke="#0a2a12" stroke-width="1"/>
<line x1="85.5" y1="240.0" x2="85.5" y2="259.7" stroke="#0a2a12"/>
<rect x="84.5" y="244.4" width="2" height="11.5" fill="#1d7a42" stroke="#0a2a12" stroke-width="1"/>
<line x1="88.5" y1="207.0" x2="88.5" y2="246.2" stroke="#0a2a12"/>
<rect x="87.5" y="210.4" width="2" height="33.9" fill="#1d7a42" stroke="#0a2a12" stroke-width="1"/>
<line x1="90.5" y1="200.0" x2="90.5" y2="218.5" stroke="#c00000"/>
<rect x="89.5" y="206.0" width="2" height="9.5" fill="#e00c0c" stroke="#c00000" stroke-width="1"/>
<line x1="93.5" y1="185.3" x2="93.5" y2="214.8" stroke="#0a2a12"/>
<rect x="92.5" y="189.0" width="2" height="23.0" fill="#1d7a42" stroke="#0a2a12" stroke-width="1"/>
<line x1="95.5" y1="176.4" x2="95.5" y2="196.1" stroke="#c00000"/>
<rect x="94.5" y="188.2" width="2" height="3.8" fill="#e00c0c" stroke="#c00000" stroke-width="1"/>
<line x1="97.5" y1="188.4" x2="97.5" y2="198.4" stroke="#c00000"/>
<rect x="96.5" y="192.0" width="2" height="4.4" fill="#e00c0c" stroke="#c00000" stroke-width="1"/>
<line x1="100.5" y1="192.4" x2="100.5" y2="210.4" stroke="#c00000"/>
<rect x="99.5" y="196.0" width="2" height="10.0" fill="#e00c0c" stroke="#c00000" stroke-width="1"/>
<line x1="102.5" y1="204.6" x2="102.5" y2="216.4" stroke="#c00000"/>
<rect x="101.5" y="206.0" width="2" height="6.7" fill="#e00c0c" stroke="#c00000" stroke-width="1"/>
<line x1="105.5" y1="193.3" x2="105.5" y2="213.8" stroke="#0a2a12"/>
<rect x="104.5" y="202.0" width="2" height="9.3" fill="#1d7a42" stroke="#0a2a12" stroke-width="1"/>
<line x1="107.5" y1="198.4" x2="107.5" y2="208.2" stroke="#c00000"/>
<rect x="106.5" y="202.0" width="2" height="4.7" fill="#e00c0c" stroke="#c00000" stroke-width="1"/>
<line x1="109.5" y1="203.3" x2="109.5" y2="223.8" stroke="#c00000"/>
<rect x="108.5" y="206.0" width="2" height="8.5" fill="#e00c0c" stroke="#c00000" stroke-width="1"/>
<line x1="112.5" y1="205.1" x2="112.5" y2="218.8" stroke="#0a2a12"/>
<rect x="111.5" y="206.2" width="2" height="9.3" fill="#1d7a42" stroke="#0a2a12" stroke-width="1"/>
<line x1="114.5" y1="203.0" x2="114.5" y2="233.0" stroke="#c00000"/>
<rect x="113.5" y="205.8" width="2" height="23.5" fill="#e00c0c" stroke="#c00000" stroke-width="1"/>
<line x1="116.5" y1="222.0" x2="116.5" y2="235.0" stroke="#0a2a12"/>
<rect x="115.5" y="225.0" width="2" height="1.5" fill="#1d7a42" stroke="#0a2a12" stroke-width="1"/>
<line x1="119.5" y1="212.5" x2="119.5" y2="227.7" stroke="#0a2a12"/>
<rect x="118.5" y="216.6" width="2" height="9.0" fill="#1d7a42" stroke="#0a2a12" stroke-width="1"/>
<line x1="121.5" y1="213.2" x2="121.5" y2="238.8" stroke="#c00000"/>
<rect x="120.5" y="216.6" width="2" height="17.8" fill="#e00c0c" stroke="#c00000" stroke-width="1"/>
<line x1="124.5" y1="230.5" x2="124.5" y2="261.0" stroke="#c00000"/>
<rect x="123.5" y="235.5" width="2" height="11.0" fill="#e00c0c" stroke="#c00000" stroke-width="1"/>
<line x1="126.5" y1="229.6" x2="126.5" y2="259.8" stroke="#0a2a12"/>
<rect x="125.5" y="232.7" width="2" height="10.5" fill="#1d7a42" stroke="#0a2a12" stroke-width="1"/>
<line x1="128.5" y1="229.7" x2="128.5" y2="239.2" stroke="#c00000"/>
<rect x="127.5" y="232.7" width="2" height="3.9" fill="#e00c0c" stroke="#c00000" stroke-width="1"/>
<line x1="131.5" y1="232.0" x2="131.5" y2="246.5" stroke="#0a2a12"/>
<rect x="130.5" y="237.0" width="2" height="3.0" fill="#1d7a42" stroke="#0a2a12" stroke-width="1"/>
<line x1="133.5" y1="234.3" x2="133.5" y2="253.7" stroke="#c00000"/>
<rect x="132.5" y="238.2" width="2" height="6.1" fill="#e00c0c" stroke="#c00000" stroke-width="1"/>
<line x1="136.5" y1="240.7" x2="136.5" y2="268.2" stroke="#c00000"/>
<rect x="135.5" y="245.0" width="2" height="20.5" fill="#e00c0c" stroke="#c00000" stroke-width="1"/>
<line x1="138.5" y1="262.7" x2="138.5" y2="316.0" stroke="#c00000"/>
<rect x="137.5" y="266.0" width="2" height="26.6" fill="#e00c0c" stroke="#c00000" stroke-width="1"/>
<line x1="140.5" y1="283.8" x2="140.5" y2="296.5" stroke="#0a2a12"/>
<rect x="139.5" y="285.0" width="2" height="7.6" fill="#1d7a42" stroke="#0a2a12" stroke-width="1"/>
<line x1="143.5" y1="270.5" x2="143.5" y2="289.3" stroke="#0a2a12"/>
<rect x="142.5" y="274.0" width="2" height="12.0" fill="#1d7a42" stroke="#0a2a12" stroke-width="1"/>
<line x1="145.5" y1="261.6" x2="145.5" y2="280.3" stroke="#0a2a12"/>
<rect x="144.5" y="265.0" width="2" height="10.8" fill="#1d7a42" stroke="#0a2a12" stroke-width="1"/>
<line x1="148.5" y1="262.1" x2="148.5" y2="270.7" stroke="#c00000"/>
<rect x="147.5" y="266.0" width="2" height="2.7" fill="#e00c0c" stroke="#c00000" stroke-width="1"/>
<line x1="150.5" y1="264.6" x2="150.5" y2="281.0" stroke="#c00000"/>
<rect x="149.5" y="267.0" width="2" height="3.5" fill="#e00c0c" stroke="#c00000" stroke-width="1"/>
<line x1="152.5" y1="255.2" x2="152.5" y2="274.3" stroke="#0a2a12"/>
<rect x="151.5" y="259.5" width="2" height="11.5" fill="#1d7a42" stroke="#0a2a12" stroke-width="1"/>
<line x1="155.5" y1="257.9" x2="155.5" y2="273.3" stroke="#c00000"/>
<rect x="154.5" y="259.0" width="2" height="11.7" fill="#e00c0c" stroke="#c00000" stroke-width="1"/>
<line x1="157.5" y1="268.4" x2="157.5" y2="280.9" stroke="#c00000"/>
<rect x="156.5" y="270.0" width="2" height="9.5" fill="#e00c0c" stroke="#c00000" stroke-width="1"/>
<line x1="159.5" y1="278.3" x2="159.5" y2="302.4" stroke="#c00000"/>
<rect x="158.5" y="279.5" width="2" height="10.5" fill="#e00c0c" stroke="#c00000" stroke-width="1"/>
<line x1="162.5" y1="286.2" x2="162.5" y2="323.8" stroke="#c00000"/>
<rect x="161.5" y="291.0" width="2" height="19.5" fill="#e00c0c" stroke="#c00000" stroke-width="1"/>
<line x1="164.5" y1="303.9" x2="164.5" y2="322.0" stroke="#0a2a12"/>
<rect x="163.5" y="307.6" width="2" height="2.9" fill="#1d7a42" stroke="#0a2a12" stroke-width="1"/>
<line x1="167.5" y1="309.5" x2="167.5" y2="340.1" stroke="#c00000"/>
<rect x="166.5" y="311.0" width="2" height="27.2" fill="#e00c0c" stroke="#c00000" stroke-width="1"/>
<line x1="169.5" y1="321.3" x2="169.5" y2="346.0" stroke="#0a2a12"/>
<rect x="168.5" y="323.7" width="2" height="14.3" fill="#1d7a42" stroke="#0a2a12" stroke-width="1"/>
<line x1="171.5" y1="316.3" x2="171.5" y2="327.8" stroke="#0a2a12"/>
<rect x="170.5" y="320.3" width="2" height="6.2" fill="#1d7a42" stroke="#0a2a12" stroke-width="1"/>
<line x1="174.5" y1="317.5" x2="174.5" y2="338.1" stroke="#c00000"/>
<rect x="173.5" y="320.3" width="2" height="15.2" fill="#e00c0c" stroke="#c00000" stroke-width="1"/>
<line x1="176.5" y1="332.1" x2="176.5" y2="346.0" stroke="#c00000"/>
<rect x="175.5" y="335.0" width="2" height="5.3" fill="#e00c0c" stroke="#c00000" stroke-width="1"/>
<line x1="179.5" y1="334.9" x2="179.5" y2="349.8" stroke="#c00000"/>
<rect x="178.5" y="339.0" width="2" height="6.9" fill="#e00c0c" stroke="#c00000" stroke-width="1"/>
<line x1="181.5" y1="341.0" x2="181.5" y2="355.5" stroke="#c00000"/>
<rect x="180.5" y="345.0" width="2" height="5.0" fill="#e00c0c" stroke="#c00000" stroke-width="1"/>
<line x1="183.5" y1="332.0" x2="183.5" y2="351.8" stroke="#0a2a12"/>
<rect x="182.5" y="334.0" width="2" height="15.3" fill="#1d7a42" stroke="#0a2a12" stroke-width="1"/>
<line x1="186.5" y1="329.2" x2="186.5" y2="339.3" stroke="#0a2a12"/>
<rect x="185.5" y="331.5" width="2" height="3.3" fill="#1d7a42" stroke="#0a2a12" stroke-width="1"/>
<line x1="188.5" y1="322.0" x2="188.5" y2="335.6" stroke="#0a2a12"/>
<rect x="187.5" y="325.0" width="2" height="6.5" fill="#1d7a42" stroke="#0a2a12" stroke-width="1"/>
<line x1="191.5" y1="313.6" x2="191.5" y2="328.5" stroke="#0a2a12"/>
<rect x="190.5" y="318.0" width="2" height="9.0" fill="#1d7a42" stroke="#0a2a12" stroke-width="1"/>
<line x1="193.5" y1="314.3" x2="193.5" y2="320.6" stroke="#0a2a12"/>
<rect x="192.5" y="317.5" width="2" height="1.5" fill="#1d7a42" stroke="#0a2a12" stroke-width="1"/>
<line x1="195.5" y1="311.6" x2="195.5" y2="326.7" stroke="#c00000"/>
<rect x="194.5" y="316.6" width="2" height="8.3" fill="#e00c0c" stroke="#c00000" stroke-width="1"/>
<line x1="198.5" y1="310.9" x2="198.5" y2="327.6" stroke="#0a2a12"/>
<rect x="197.5" y="312.7" width="2" height="12.2" fill="#1d7a42" stroke="#0a2a12" stroke-width="1"/>
<line x1="200.5" y1="305.7" x2="200.5" y2="315.7" stroke="#0a2a12"/>
<rect x="199.5" y="308.8" width="2" height="5.0" fill="#1d7a42" stroke="#0a2a12" stroke-width="1"/>
<line x1="202.5" y1="300.6" x2="202.5" y2="310.8" stroke="#0a2a12"/>
<rect x="201.5" y="301.6" width="2" height="6.7" fill="#1d7a42" stroke="#0a2a12" stroke-width="1"/>
<line x1="205.5" y1="296.0" x2="205.5" y2="303.9" stroke="#0a2a12"/>
<rect x="204.5" y="299.7" width="2" height="1.9" fill="#1d7a42" stroke="#0a2a12" stroke-width="1"/>
<line x1="207.5" y1="296.7" x2="207.5" y2="306.6" stroke="#c00000"/>
<rect x="206.5" y="299.7" width="2" height="1.9" fill="#e00c0c" stroke="#c00000" stroke-width="1"/>
<line x1="210.5" y1="296.0" x2="210.5" y2="312.7" stroke="#c00000"/>
<rect x="209.5" y="300.0" width="2" height="6.6" fill="#e00c0c" stroke="#c00000" stroke-width="1"/>
<line x1="212.5" y1="299.0" x2="212.5" y2="310.0" stroke="#0a2a12"/>
<rect x="211.5" y="303.3" width="2" height="3.3" fill="#1d7a42" stroke="#0a2a12" stroke-width="1"/>
<line x1="214.5" y1="301.2" x2="214.5" y2="311.6" stroke="#c00000"/>
<rect x="213.5" y="304.0" width="2" height="1.5" fill="#e00c0c" stroke="#c00000" stroke-width="1"/>
<line x1="217.5" y1="296.2" x2="217.5" y2="308.4" stroke="#0a2a12"/>
<rect x="216.5" y="299.4" width="2" height="5.6" fill="#1d7a42" stroke="#0a2a12" stroke-width="1"/>
<line x1="219.5" y1="298.3" x2="219.5" y2="309.3" stroke="#c00000"/>
<rect x="218.5" y="299.1" width="2" height="6.4" fill="#e00c0c" stroke="#c00000" stroke-width="1"/>
<line x1="222.5" y1="304.8" x2="222.5" y2="315.0" stroke="#c00000"/>
<rect x="221.5" y="306.0" width="2" height="2.2" fill="#e00c0c" stroke="#c00000" stroke-width="1"/>
<line x1="224.5" y1="301.3" x2="224.5" y2="311.1" stroke="#0a2a12"/>
<rect x="223.5" y="305.8" width="2" height="1.2" fill="#1d7a42" stroke="#0a2a12" stroke-width="1"/>
<line x1="226.5" y1="299.0" x2="226.5" y2="309.7" stroke="#0a2a12"/>
<rect x="225.5" y="302.0" width="2" height="4.0" fill="#1d7a42" stroke="#0a2a12" stroke-width="1"/>
<line x1="229.5" y1="293.3" x2="229.5" y2="306.5" stroke="#0a2a12"/>
<rect x="228.5" y="297.4" width="2" height="5.3" fill="#1d7a42" stroke="#0a2a12" stroke-width="1"/>
<line x1="231.5" y1="292.3" x2="231.5" y2="300.7" stroke="#0a2a12"/>
<rect x="230.5" y="294.7" width="2" height="3.6" fill="#1d7a42" stroke="#0a2a12" stroke-width="1"/>
<line x1="234.5" y1="292.0" x2="234.5" y2="298.4" stroke="#c00000"/>
<rect x="233.5" y="293.4" width="2" height="1.8" fill="#e00c0c" stroke="#c00000" stroke-width="1"/>
<line x1="236.5" y1="290.3" x2="236.5" y2="296.4" stroke="#0a2a12"/>
<rect x="235.5" y="293.0" width="2" height="2.2" fill="#1d7a42" stroke="#0a2a12" stroke-width="1"/>
<line x1="238.5" y1="289.0" x2="238.5" y2="294.6" stroke="#c00000"/>
<rect x="237.5" y="292.0" width="2" height="1.4" fill="#e00c0c" stroke="#c00000" stroke-width="1"/>
<line x1="241.5" y1="289.5" x2="241.5" y2="299.6" stroke="#c00000"/>
<rect x="240.5" y="291.2" width="2" height="6.2" fill="#e00c0c" stroke="#c00000" stroke-width="1"/>
<line x1="243.5" y1="287.8" x2="243.5" y2="299.2" stroke="#0a2a12"/>
<rect x="242.5" y="289.4" width="2" height="7.6" fill="#1d7a42" stroke="#0a2a12" stroke-width="1"/>
<line x1="245.5" y1="284.3" x2="245.5" y2="290.4" stroke="#0a2a12"/>
<rect x="244.5" y="285.5" width="2" height="3.9" fill="#1d7a42" stroke="#0a2a12" stroke-width="1"/>
<line x1="248.5" y1="276.0" x2="248.5" y2="290.8" stroke="#0a2a12"/>
<rect x="247.5" y="277.5" width="2" height="8.8" fill="#1d7a42" stroke="#0a2a12" stroke-width="1"/>
<line x1="250.5" y1="274.4" x2="250.5" y2="280.7" stroke="#c00000"/>
<rect x="249.5" y="277.0" width="2" height="2.3" fill="#e00c0c" stroke="#c00000" stroke-width="1"/>
<line x1="253.5" y1="270.3" x2="253.5" y2="279.9" stroke="#0a2a12"/>
<rect x="252.5" y="272.6" width="2" height="6.2" fill="#1d7a42" stroke="#0a2a12" stroke-width="1"/>
<line x1="255.5" y1="265.9" x2="255.5" y2="281.5" stroke="#c00000"/>
<rect x="254.5" y="270.0" width="2" height="6.6" fill="#e00c0c" stroke="#c00000" stroke-width="1"/>
<line x1="257.5" y1="266.1" x2="257.5" y2="277.5" stroke="#0a2a12"/>
<rect x="256.5" y="269.2" width="2" height="6.8" fill="#1d7a42" stroke="#0a2a12" stroke-width="1"/>
<line x1="260.5" y1="258.8" x2="260.5" y2="270.9" stroke="#0a2a12"/>
<rect x="259.5" y="260.7" width="2" height="8.0" fill="#1d7a42" stroke="#0a2a12" stroke-width="1"/>
<line x1="262.5" y1="251.8" x2="262.5" y2="263.0" stroke="#0a2a12"/>
<rect x="261.5" y="254.1" width="2" height="7.5" fill="#1d7a42" stroke="#0a2a12" stroke-width="1"/>
<line x1="265.5" y1="246.6" x2="265.5" y2="256.8" stroke="#0a2a12"/>
<rect x="264.5" y="250.6" width="2" height="3.9" fill="#1d7a42" stroke="#0a2a12" stroke-width="1"/>
<line x1="267.5" y1="239.9" x2="267.5" y2="253.6" stroke="#0a2a12"/>
<rect x="266.5" y="244.4" width="2" height="6.6" fill="#1d7a42" stroke="#0a2a12" stroke-width="1"/>
<line x1="269.5" y1="240.0" x2="269.5" y2="248.0" stroke="#c00000"/>
<rect x="268.5" y="244.0" width="2" height="1.3" fill="#e00c0c" stroke="#c00000" stroke-width="1"/>
<line x1="272.5" y1="239.0" x2="272.5" y2="259.4" stroke="#c00000"/>
<rect x="271.5" y="244.0" width="2" height="10.5" fill="#e00c0c" stroke="#c00000" stroke-width="1"/>
<line x1="274.5" y1="251.7" x2="274.5" y2="268.7" stroke="#c00000"/>
<rect x="273.5" y="253.0" width="2" height="1.5" fill="#e00c0c" stroke="#c00000" stroke-width="1"/>
<line x1="277.5" y1="252.3" x2="277.5" y2="264.7" stroke="#c00000"/>
<rect x="276.5" y="253.7" width="2" height="1.3" fill="#e00c0c" stroke="#c00000" stroke-width="1"/>
<line x1="279.5" y1="248.4" x2="279.5" y2="256.9" stroke="#0a2a12"/>
<rect x="278.5" y="250.6" width="2" height="4.4" fill="#1d7a42" stroke="#0a2a12" stroke-width="1"/>
<line x1="281.5" y1="241.8" x2="281.5" y2="252.2" stroke="#0a2a12"/>
<rect x="280.5" y="245.7" width="2" height="4.9" fill="#1d7a42" stroke="#0a2a12" stroke-width="1"/>
<line x1="284.5" y1="236.4" x2="284.5" y2="250.3" stroke="#0a2a12"/>
<rect x="283.5" y="237.5" width="2" height="8.5" fill="#1d7a42" stroke="#0a2a12" stroke-width="1"/>
<line x1="286.5" y1="230.0" x2="286.5" y2="241.4" stroke="#0a2a12"/>
<rect x="285.5" y="232.8" width="2" height="7.1" fill="#1d7a42" stroke="#0a2a12" stroke-width="1"/>
<line x1="288.5" y1="225.7" x2="288.5" y2="241.0" stroke="#0a2a12"/>
<rect x="287.5" y="228.6" width="2" height="4.2" fill="#1d7a42" stroke="#0a2a12" stroke-width="1"/>
<line x1="291.5" y1="222.9" x2="291.5" y2="232.0" stroke="#0a2a12"/>
<rect x="290.5" y="224.0" width="2" height="5.2" fill="#1d7a42" stroke="#0a2a12" stroke-width="1"/>
<line x1="293.5" y1="216.8" x2="293.5" y2="232.4" stroke="#c00000"/>
<rect x="292.5" y="223.3" width="2" height="4.7" fill="#e00c0c" stroke="#c00000" stroke-width="1"/>
<line x1="296.5" y1="217.0" x2="296.5" y2="236.9" stroke="#0a2a12"/>
<rect x="295.5" y="221.0" width="2" height="8.2" fill="#1d7a42" stroke="#0a2a12" stroke-width="1"/>
<line x1="298.5" y1="205.2" x2="298.5" y2="223.9" stroke="#0a2a12"/>
<rect x="297.5" y="208.6" width="2" height="13.4" fill="#1d7a42" stroke="#0a2a12" stroke-width="1"/>
<line x1="300.5" y1="191.5" x2="300.5" y2="210.6" stroke="#0a2a12"/>
<rect x="299.5" y="193.8" width="2" height="15.2" fill="#1d7a42" stroke="#0a2a12" stroke-width="1"/>
<line x1="303.5" y1="186.1" x2="303.5" y2="197.5" stroke="#0a2a12"/>
<rect x="302.5" y="191.4" width="2" height="2.4" fill="#1d7a42" stroke="#0a2a12" stroke-width="1"/>
<line x1="305.5" y1="188.0" x2="305.5" y2="210.3" stroke="#c00000"/>
<rect x="304.5" y="190.9" width="2" height="16.5" fill="#e00c0c" stroke="#c00000" stroke-width="1"/>
<line x1="308.5" y1="199.0" x2="308.5" y2="216.2" stroke="#0a2a12"/>
<rect x="307.5" y="202.7" width="2" height="7.6" fill="#1d7a42" stroke="#0a2a12" stroke-width="1"/>
<line x1="310.5" y1="194.8" x2="310.5" y2="205.1" stroke="#0a2a12"/>
<rect x="309.5" y="197.0" width="2" height="6.3" fill="#1d7a42" stroke="#0a2a12" stroke-width="1"/>
<line x1="312.5" y1="191.5" x2="312.5" y2="201.4" stroke="#0a2a12"/>
<rect x="311.5" y="193.5" width="2" height="4.1" fill="#1d7a42" stroke="#0a2a12" stroke-width="1"/>
<line x1="315.5" y1="189.1" x2="315.5" y2="212.0" stroke="#c00000"/>
<rect x="314.5" y="193.5" width="2" height="5.5" fill="#e00c0c" stroke="#c00000" stroke-width="1"/>
<line x1="317.5" y1="190.0" x2="317.5" y2="203.7" stroke="#0a2a12"/>
<rect x="316.5" y="194.2" width="2" height="5.5" fill="#1d7a42" stroke="#0a2a12" stroke-width="1"/>
<line x1="320.5" y1="189.7" x2="320.5" y2="234.1" stroke="#c00000"/>
<rect x="319.5" y="193.5" width="2" height="36.7" fill="#e00c0c" stroke="#c00000" stroke-width="1"/>
<line x1="322.5" y1="225.4" x2="322.5" y2="247.5" stroke="#c00000"/>
<rect x="321.5" y="229.0" width="2" height="8.8" fill="#e00c0c" stroke="#c00000" stroke-width="1"/>
<line x1="324.5" y1="237.5" x2="324.5" y2="253.5" stroke="#c00000"/>
<rect x="323.5" y="239.3" width="2" height="3.1" fill="#e00c0c" stroke="#c00000" stroke-width="1"/>
<line x1="327.5" y1="229.4" x2="327.5" y2="246.1" stroke="#0a2a12"/>
<rect x="326.5" y="232.2" width="2" height="11.7" fill="#1d7a42" stroke="#0a2a12" stroke-width="1"/>
<line x1="329.5" y1="222.1" x2="329.5" y2="233.8" stroke="#0a2a12"/>
<rect x="328.5" y="227.2" width="2" height="5.5" fill="#1d7a42" stroke="#0a2a12" stroke-width="1"/>
<line x1="331.5" y1="226.1" x2="331.5" y2="252.5" stroke="#c00000"/>
<rect x="330.5" y="227.2" width="2" height="22.3" fill="#e00c0c" stroke="#c00000" stroke-width="1"/>
<line x1="334.5" y1="244.4" x2="334.5" y2="262.7" stroke="#0a2a12"/>
<rect x="333.5" y="248.0" width="2" height="1.0" fill="#1d7a42" stroke="#0a2a12" stroke-width="1"/>
<line x1="336.5" y1="243.4" x2="336.5" y2="256.6" stroke="#c00000"/>
<rect x="335.5" y="249.0" width="2" height="1.5" fill="#e00c0c" stroke="#c00000" stroke-width="1"/>
<line x1="339.5" y1="246.4" x2="339.5" y2="267.7" stroke="#c00000"/>
<rect x="338.5" y="251.0" width="2" height="14.7" fill="#e00c0c" stroke="#c00000" stroke-width="1"/>
<line x1="341.5" y1="264.1" x2="341.5" y2="324.0" stroke="#c00000"/>
<rect x="340.5" y="266.0" width="2" height="27.0" fill="#e00c0c" stroke="#c00000" stroke-width="1"/>
<line x1="343.5" y1="289.6" x2="343.5" y2="322.0" stroke="#c00000"/>
<rect x="342.5" y="293.0" width="2" height="11.6" fill="#e00c0c" stroke="#c00000" stroke-width="1"/>
<line x1="346.5" y1="295.7" x2="346.5" y2="307.2" stroke="#0a2a12"/>
<rect x="345.5" y="300.0" width="2" height="4.6" fill="#1d7a42" stroke="#0a2a12" stroke-width="1"/>
<line x1="348.5" y1="291.4" x2="348.5" y2="324.6" stroke="#c00000"/>
<rect x="347.5" y="299.5" width="2" height="17.1" fill="#e00c0c" stroke="#c00000" stroke-width="1"/>
<line x1="351.5" y1="305.0" x2="351.5" y2="337.5" stroke="#c00000"/>
<rect x="350.5" y="316.6" width="2" height="16.6" fill="#e00c0c" stroke="#c00000" stroke-width="1"/>
<line x1="353.5" y1="315.5" x2="353.5" y2="338.4" stroke="#0a2a12"/>
<rect x="352.5" y="320.0" width="2" height="13.2" fill="#1d7a42" stroke="#0a2a12" stroke-width="1"/>
<line x1="355.5" y1="299.2" x2="355.5" y2="322.3" stroke="#0a2a12"/>
<rect x="354.5" y="303.5" width="2" height="16.5" fill="#1d7a42" stroke="#0a2a12" stroke-width="1"/>
<line x1="358.5" y1="294.2" x2="358.5" y2="303.5" stroke="#0a2a12"/>
<rect x="357.5" y="296.0" width="2" height="5.7" fill="#1d7a42" stroke="#0a2a12" stroke-width="1"/>
<line x1="360.5" y1="290.3" x2="360.5" y2="306.9" stroke="#c00000"/>
<rect x="359.5" y="295.4" width="2" height="6.3" fill="#e00c0c" stroke="#c00000" stroke-width="1"/>
<line x1="363.5" y1="284.0" x2="363.5" y2="310.9" stroke="#0a2a12"/>
<rect x="362.5" y="285.7" width="2" height="15.5" fill="#1d7a42" stroke="#0a2a12" stroke-width="1"/>
<line x1="365.5" y1="279.3" x2="365.5" y2="291.6" stroke="#0a2a12"/>
<rect x="364.5" y="281.0" width="2" height="4.5" fill="#1d7a42" stroke="#0a2a12" stroke-width="1"/>
<line x1="367.5" y1="271.8" x2="367.5" y2="285.2" stroke="#0a2a12"/>
<rect x="366.5" y="275.0" width="2" height="6.0" fill="#1d7a42" stroke="#0a2a12" stroke-width="1"/>
<line x1="370.5" y1="268.0" x2="370.5" y2="288.5" stroke="#c00000"/>
<rect x="369.5" y="275.0" width="2" height="9.6" fill="#e00c0c" stroke="#c00000" stroke-width="1"/>
<line x1="372.5" y1="274.1" x2="372.5" y2="287.9" stroke="#0a2a12"/>
<rect x="371.5" y="276.8" width="2" height="7.8" fill="#1d7a42" stroke="#0a2a12" stroke-width="1"/>
<line x1="374.5" y1="263.9" x2="374.5" y2="280.6" stroke="#0a2a12"/>
<rect x="373.5" y="267.1" width="2" height="9.7" fill="#1d7a42" stroke="#0a2a12" stroke-width="1"/>
<line x1="377.5" y1="262.0" x2="377.5" y2="280.8" stroke="#c00000"/>
<rect x="376.5" y="264.8" width="2" height="14.7" fill="#e00c0c" stroke="#c00000" stroke-width="1"/>
<line x1="379.5" y1="274.4" x2="379.5" y2="284.6" stroke="#0a2a12"/>
<rect x="378.5" y="277.7" width="2" height="1.8" fill="#1d7a42" stroke="#0a2a12" stroke-width="1"/>
<line x1="382.5" y1="259.2" x2="382.5" y2="281.0" stroke="#0a2a12"/>
<rect x="381.5" y="261.0" width="2" height="15.8" fill="#1d7a42" stroke="#0a2a12" stroke-width="1"/>
<line x1="384.5" y1="255.0" x2="384.5" y2="267.6" stroke="#c00000"/>
<rect x="383.5" y="260.6" width="2" height="3.3" fill="#e00c0c" stroke="#c00000" stroke-width="1"/>
<line x1="386.5" y1="258.9" x2="386.5" y2="279.6" stroke="#c00000"/>
<rect x="385.5" y="262.5" width="2" height="4.8" fill="#e00c0c" stroke="#c00000" stroke-width="1"/>
<line x1="389.5" y1="255.0" x2="389.5" y2="274.7" stroke="#c00000"/>
<rect x="388.5" y="267.5" width="2" height="4.5" fill="#e00c0c" stroke="#c00000" stroke-width="1"/>
<line x1="391.5" y1="259.9" x2="391.5" y2="273.1" stroke="#0a2a12"/>
<rect x="390.5" y="261.5" width="2" height="7.8" fill="#1d7a42" stroke="#0a2a12" stroke-width="1"/>
<line x1="394.5" y1="253.8" x2="394.5" y2="272.5" stroke="#c00000"/>
<rect x="393.5" y="260.9" width="2" height="8.4" fill="#e00c0c" stroke="#c00000" stroke-width="1"/>
<line x1="396.5" y1="257.4" x2="396.5" y2="273.1" stroke="#0a2a12"/>
<rect x="395.5" y="259.6" width="2" height="9.7" fill="#1d7a42" stroke="#0a2a12" stroke-width="1"/>
<line x1="398.5" y1="242.9" x2="398.5" y2="262.0" stroke="#0a2a12"/>
<rect x="397.5" y="247.3" width="2" height="12.3" fill="#1d7a42" stroke="#0a2a12" stroke-width="1"/>
<line x1="401.5" y1="236.6" x2="401.5" y2="251.0" stroke="#0a2a12"/>
<rect x="400.5" y="239.0" width="2" height="7.7" fill="#1d7a42" stroke="#0a2a12" stroke-width="1"/>
<line x1="403.5" y1="233.0" x2="403.5" y2="242.5" stroke="#0a2a12"/>
<rect x="402.5" y="236.0" width="2" height="3.0" fill="#1d7a42" stroke="#0a2a12" stroke-width="1"/>
<line x1="406.5" y1="232.1" x2="406.5" y2="241.5" stroke="#0a2a12"/>
<rect x="405.5" y="233.7" width="2" height="3.3" fill="#1d7a42" stroke="#0a2a12" stroke-width="1"/>
<line x1="408.5" y1="223.4" x2="408.5" y2="235.8" stroke="#0a2a12"/>
<rect x="407.5" y="227.3" width="2" height="7.1" fill="#1d7a42" stroke="#0a2a12" stroke-width="1"/>
<line x1="410.5" y1="223.9" x2="410.5" y2="254.5" stroke="#c00000"/>
<rect x="409.5" y="225.4" width="2" height="8.8" fill="#e00c0c" stroke="#c00000" stroke-width="1"/>
<line x1="413.5" y1="216.1" x2="413.5" y2="237.4" stroke="#0a2a12"/>
<rect x="412.5" y="220.3" width="2" height="13.9" fill="#1d7a42" stroke="#0a2a12" stroke-width="1"/>
<line x1="415.5" y1="218.0" x2="415.5" y2="230.6" stroke="#c00000"/>
<rect x="414.5" y="218.9" width="2" height="7.9" fill="#e00c0c" stroke="#c00000" stroke-width="1"/>
<line x1="417.5" y1="223.9" x2="417.5" y2="237.0" stroke="#0a2a12"/>
<rect x="416.5" y="225.4" width="2" height="1.4" fill="#1d7a42" stroke="#0a2a12" stroke-width="1"/>
<line x1="420.5" y1="221.2" x2="420.5" y2="240.9" stroke="#c00000"/>
<rect x="419.5" y="225.4" width="2" height="11.6" fill="#e00c0c" stroke="#c00000" stroke-width="1"/>
<line x1="422.5" y1="232.6" x2="422.5" y2="288.7" stroke="#c00000"/>
<rect x="421.5" y="237.0" width="2" height="38.4" fill="#e00c0c" stroke="#c00000" stroke-width="1"/>
<line x1="425.5" y1="272.1" x2="425.5" y2="299.8" stroke="#c00000"/>
<rect x="424.5" y="275.4" width="2" height="10.0" fill="#e00c0c" stroke="#c00000" stroke-width="1"/>
<line x1="427.5" y1="255.0" x2="427.5" y2="295.4" stroke="#0a2a12"/>
<rect x="426.5" y="265.5" width="2" height="22.7" fill="#1d7a42" stroke="#0a2a12" stroke-width="1"/>
<line x1="429.5" y1="263.3" x2="429.5" y2="269.5" stroke="#0a2a12"/>
<rect x="428.5" y="265.5" width="2" height="1.1" fill="#1d7a42" stroke="#0a2a12" stroke-width="1"/>
<line x1="432.5" y1="264.0" x2="432.5" y2="280.4" stroke="#c00000"/>
<rect x="431.5" y="265.5" width="2" height="6.1" fill="#e00c0c" stroke="#c00000" stroke-width="1"/>
<line x1="434.5" y1="252.3" x2="434.5" y2="276.5" stroke="#0a2a12"/>
<rect x="433.5" y="253.3" width="2" height="18.8" fill="#1d7a42" stroke="#0a2a12" stroke-width="1"/>
<line x1="437.5" y1="236.7" x2="437.5" y2="256.6" stroke="#0a2a12"/>
<rect x="436.5" y="240.0" width="2" height="13.8" fill="#1d7a42" stroke="#0a2a12" stroke-width="1"/>
<line x1="439.5" y1="232.0" x2="439.5" y2="246.3" stroke="#0a2a12"/>
<rect x="438.5" y="239.0" width="2" height="3.0" fill="#1d7a42" stroke="#0a2a12" stroke-width="1"/>
<line x1="441.5" y1="236.5" x2="441.5" y2="254.0" stroke="#c00000"/>
<rect x="440.5" y="239.0" width="2" height="6.0" fill="#e00c0c" stroke="#c00000" stroke-width="1"/>
<line x1="444.5" y1="238.9" x2="444.5" y2="264.9" stroke="#c00000"/>
<rect x="443.5" y="243.0" width="2" height="18.0" fill="#e00c0c" stroke="#c00000" stroke-width="1"/>
<line x1="446.5" y1="254.7" x2="446.5" y2="266.0" stroke="#0a2a12"/>
<rect x="445.5" y="256.4" width="2" height="5.5" fill="#1d7a42" stroke="#0a2a12" stroke-width="1"/>
<line x1="449.5" y1="244.1" x2="449.5" y2="258.4" stroke="#0a2a12"/>
<rect x="448.5" y="246.0" width="2" height="10.4" fill="#1d7a42" stroke="#0a2a12" stroke-width="1"/>
<line x1="451.5" y1="238.2" x2="451.5" y2="249.5" stroke="#0a2a12"/>
<rect x="450.5" y="240.0" width="2" height="6.4" fill="#1d7a42" stroke="#0a2a12" stroke-width="1"/>
<line x1="453.5" y1="224.0" x2="453.5" y2="242.8" stroke="#0a2a12"/>
<rect x="452.5" y="231.4" width="2" height="9.5" fill="#1d7a42" stroke="#0a2a12" stroke-width="1"/>
<line x1="456.5" y1="226.9" x2="456.5" y2="233.5" stroke="#0a2a12"/>
<rect x="455.5" y="229.4" width="2" height="2.6" fill="#1d7a42" stroke="#0a2a12" stroke-width="1"/>
<line x1="458.5" y1="221.8" x2="458.5" y2="240.0" stroke="#0a2a12"/>
<rect x="457.5" y="226.0" width="2" height="5.0" fill="#1d7a42" stroke="#0a2a12" stroke-width="1"/>
<line x1="460.5" y1="215.8" x2="460.5" y2="229.1" stroke="#0a2a12"/>
<rect x="459.5" y="218.0" width="2" height="8.5" fill="#1d7a42" stroke="#0a2a12" stroke-width="1"/>
<line x1="463.5" y1="212.0" x2="463.5" y2="222.0" stroke="#0a2a12"/>
<rect x="462.5" y="215.0" width="2" height="2.8" fill="#1d7a42" stroke="#0a2a12" stroke-width="1"/>
<line x1="465.5" y1="210.5" x2="465.5" y2="222.0" stroke="#c00000"/>
<rect x="464.5" y="213.0" width="2" height="2.7" fill="#e00c0c" stroke="#c00000" stroke-width="1"/>
<line x1="468.5" y1="209.4" x2="468.5" y2="220.6" stroke="#0a2a12"/>
<rect x="467.5" y="213.6" width="2" height="4.2" fill="#1d7a42" stroke="#0a2a12" stroke-width="1"/>
<line x1="470.5" y1="208.1" x2="470.5" y2="217.8" stroke="#0a2a12"/>
<rect x="469.5" y="211.0" width="2" height="4.0" fill="#1d7a42" stroke="#0a2a12" stroke-width="1"/>
<line x1="472.5" y1="191.5" x2="472.5" y2="212.0" stroke="#0a2a12"/>
<rect x="471.5" y="199.0" width="2" height="11.9" fill="#1d7a42" stroke="#0a2a12" stroke-width="1"/>
<line x1="475.5" y1="193.1" x2="475.5" y2="219.0" stroke="#c00000"/>
<rect x="474.5" y="195.6" width="2" height="16.6" fill="#e00c0c" stroke="#c00000" stroke-width="1"/>
<line x1="477.5" y1="199.6" x2="477.5" y2="217.8" stroke="#0a2a12"/>
<rect x="476.5" y="201.2" width="2" height="9.7" fill="#1d7a42" stroke="#0a2a12" stroke-width="1"/>
<line x1="480.5" y1="200.2" x2="480.5" y2="209.8" stroke="#c00000"/>
<rect x="479.5" y="201.2" width="2" height="4.8" fill="#e00c0c" stroke="#c00000" stroke-width="1"/>
<line x1="482.5" y1="188.4" x2="482.5" y2="206.7" stroke="#0a2a12"/>
<rect x="481.5" y="190.0" width="2" height="14.0" fill="#1d7a42" stroke="#0a2a12" stroke-width="1"/>
<line x1="484.5" y1="174.2" x2="484.5" y2="194.4" stroke="#0a2a12"/>
<rect x="483.5" y="177.7" width="2" height="13.8" fill="#1d7a42" stroke="#0a2a12" stroke-width="1"/>
<line x1="487.5" y1="164.5" x2="487.5" y2="179.8" stroke="#0a2a12"/>
<rect x="486.5" y="166.6" width="2" height="10.4" fill="#1d7a42" stroke="#0a2a12" stroke-width="1"/>
<line x1="489.5" y1="157.5" x2="489.5" y2="170.3" stroke="#0a2a12"/>
<rect x="488.5" y="160.4" width="2" height="6.2" fill="#1d7a42" stroke="#0a2a12" stroke-width="1"/>
<line x1="492.5" y1="155.0" x2="492.5" y2="174.8" stroke="#c00000"/>
<rect x="491.5" y="160.4" width="2" height="9.6" fill="#e00c0c" stroke="#c00000" stroke-width="1"/>
<line x1="494.5" y1="158.6" x2="494.5" y2="179.6" stroke="#0a2a12"/>
<rect x="493.5" y="160.0" width="2" height="10.6" fill="#1d7a42" stroke="#0a2a12" stroke-width="1"/>
<line x1="496.5" y1="157.0" x2="496.5" y2="182.6" stroke="#c00000"/>
<rect x="495.5" y="160.0" width="2" height="3.0" fill="#e00c0c" stroke="#c00000" stroke-width="1"/>
<line x1="499.5" y1="155.5" x2="499.5" y2="177.0" stroke="#0a2a12"/>
<rect x="498.5" y="157.4" width="2" height="3.6" fill="#1d7a42" stroke="#0a2a12" stroke-width="1"/>
<line x1="501.5" y1="148.8" x2="501.5" y2="161.7" stroke="#0a2a12"/>
<rect x="500.5" y="150.8" width="2" height="7.2" fill="#1d7a42" stroke="#0a2a12" stroke-width="1"/>
<line x1="504.5" y1="147.8" x2="504.5" y2="157.2" stroke="#c00000"/>
<rect x="503.5" y="150.2" width="2" height="4.2" fill="#e00c0c" stroke="#c00000" stroke-width="1"/>
<line x1="506.5" y1="150.0" x2="506.5" y2="171.8" stroke="#c00000"/>
<rect x="505.5" y="154.4" width="2" height="14.4" fill="#e00c0c" stroke="#c00000" stroke-width="1"/>
<line x1="508.5" y1="162.7" x2="508.5" y2="183.8" stroke="#0a2a12"/>
<rect x="507.5" y="166.4" width="2" height="2.4" fill="#1d7a42" stroke="#0a2a12" stroke-width="1"/>
<line x1="511.5" y1="153.2" x2="511.5" y2="173.0" stroke="#c00000"/>
<rect x="510.5" y="165.2" width="2" height="3.6" fill="#e00c0c" stroke="#c00000" stroke-width="1"/>
<line x1="513.5" y1="162.6" x2="513.5" y2="200.5" stroke="#c00000"/>
<rect x="512.5" y="165.2" width="2" height="4.8" fill="#e00c0c" stroke="#c00000" stroke-width="1"/>
<line x1="515.5" y1="147.7" x2="515.5" y2="174.6" stroke="#0a2a12"/>
<rect x="514.5" y="150.8" width="2" height="21.0" fill="#1d7a42" stroke="#0a2a12" stroke-width="1"/>
<line x1="518.5" y1="148.0" x2="518.5" y2="160.8" stroke="#c00000"/>
<rect x="517.5" y="150.8" width="2" height="6.6" fill="#e00c0c" stroke="#c00000" stroke-width="1"/>
<line x1="520.5" y1="127.7" x2="520.5" y2="166.0" stroke="#0a2a12"/>
<rect x="519.5" y="130.3" width="2" height="25.2" fill="#1d7a42" stroke="#0a2a12" stroke-width="1"/>
<line x1="523.5" y1="105.8" x2="523.5" y2="133.0" stroke="#0a2a12"/>
<rect x="522.5" y="108.7" width="2" height="21.6" fill="#1d7a42" stroke="#0a2a12" stroke-width="1"/>
<line x1="525.5" y1="82.3" x2="525.5" y2="112.5" stroke="#0a2a12"/>
<rect x="524.5" y="92.5" width="2" height="15.7" fill="#1d7a42" stroke="#0a2a12" stroke-width="1"/>
<line x1="527.5" y1="77.2" x2="527.5" y2="110.5" stroke="#c00000"/>
<rect x="526.5" y="93.0" width="2" height="15.2" fill="#e00c0c" stroke="#c00000" stroke-width="1"/>
<line x1="530.5" y1="92.0" x2="530.5" y2="111.6" stroke="#c00000"/>
<rect x="529.5" y="105.4" width="2" height="2.8" fill="#e00c0c" stroke="#c00000" stroke-width="1"/>
<line x1="532.5" y1="101.2" x2="532.5" y2="127.6" stroke="#c00000"/>
<rect x="531.5" y="105.9" width="2" height="16.1" fill="#e00c0c" stroke="#c00000" stroke-width="1"/>
<line x1="535.5" y1="96.2" x2="535.5" y2="131.8" stroke="#0a2a12"/>
<rect x="534.5" y="111.4" width="2" height="12.6" fill="#1d7a42" stroke="#0a2a12" stroke-width="1"/>
<line x1="537.5" y1="101.2" x2="537.5" y2="147.7" stroke="#c00000"/>
<rect x="536.5" y="111.9" width="2" height="31.7" fill="#e00c0c" stroke="#c00000" stroke-width="1"/>
<line x1="539.5" y1="139.3" x2="539.5" y2="172.6" stroke="#c00000"/>
<rect x="538.5" y="143.6" width="2" height="18.2" fill="#e00c0c" stroke="#c00000" stroke-width="1"/>
<line x1="542.5" y1="124.5" x2="542.5" y2="170.8" stroke="#0a2a12"/>
<rect x="541.5" y="126.4" width="2" height="33.0" fill="#1d7a42" stroke="#0a2a12" stroke-width="1"/>
<line x1="544.5" y1="107.5" x2="544.5" y2="130.7" stroke="#0a2a12"/>
<rect x="543.5" y="110.5" width="2" height="15.9" fill="#1d7a42" stroke="#0a2a12" stroke-width="1"/>
<line x1="547.5" y1="104.3" x2="547.5" y2="132.4" stroke="#c00000"/>
<rect x="546.5" y="108.2" width="2" height="20.6" fill="#e00c0c" stroke="#c00000" stroke-width="1"/>
</g>
<defs><filter id="bl" x="-50%" y="-50%" width="200%" height="200%"><feGaussianBlur stdDeviation="2.2"/></filter></defs>
<polygon points="566,59 586,49.5 586,46 568,54" fill="#d0d0d0" opacity="0.7" filter="url(#bl)"/>
<line x1="26.6" y1="321.2" x2="565" y2="60.8" stroke="#2a2a2a" stroke-width="1.2"/>
<line x1="565" y1="60.8" x2="616" y2="36.1" stroke="#2a2a2a" stroke-width="1.2" stroke-dasharray="2.8,1.6"/>
<line x1="95.4" y1="176.3" x2="599.6" y2="201.6" stroke="#2a2a2a" stroke-width="1.2"/>
<g stroke="#0808f8" stroke-width="2" fill="none" stroke-dasharray="6,2,2,2">
<line x1="549.2" y1="119.3" x2="567.6" y2="195.5"/>
<line x1="569.8" y1="195" x2="601.8" y2="49"/>
</g>
<g stroke="#0808f8" stroke-width="2" fill="none">
<polyline points="564.6,190 568,197 571,189.5"/>
<polyline points="598.2,53.5 602.2,47 605,54"/>
</g>
<g font-family="Liberation Sans, sans-serif" font-weight="bold" font-size="16" fill="#0808f8" text-anchor="middle">
<text x="304.1" y="172.6">B</text>
<text x="181.3" y="368.8">A</text>
<text x="352" y="359.5">C</text>
<text x="415.5" y="212">(1)</text>
<text x="424.5" y="317.2">(2)</text>
<text x="527.3" y="41.6">(3)</text>
<text x="539.6" y="186.8">a</text>
<text x="546" y="100.8">b</text>
<text x="569.2" y="215">c</text>
<text x="570.8" y="228.6">(4)</text>
</g>
<g font-family="Liberation Sans, sans-serif" font-size="13.6" fill="#0808f8" stroke="#0808f8" stroke-width="0.3" text-anchor="middle">
<text x="439" y="228.8">1</text>
<text x="449" y="283.6">2</text>
<text x="502.4" y="138">3</text>
<text x="514.6" y="220.7">4</text>
<text x="527.5" y="67.9">5</text>
</g>
<text x="597.4" y="41.5" font-family="Liberation Sans, sans-serif" font-weight="bold" font-size="16" fill="#000" text-anchor="middle">(5)</text>
<path d="M158.3,368.8 Q160.5,371.6 162.7,368.8" stroke="#1a1a1a" stroke-width="1.4" fill="none"/>
<defs><linearGradient id="yg" x1="0" y1="0" x2="0" y2="1"><stop offset="0" stop-color="#ffdc10"/><stop offset="1" stop-color="#f2b400"/></linearGradient></defs>
<rect x="611.5" y="120.5" width="50" height="14.8" fill="url(#yg)" stroke="#8ea0b0" stroke-width="1"/>
<line x1="607" y1="128.5" x2="611" y2="128.5" stroke="#000" stroke-width="1.5"/>
<text x="613.5" y="132" font-family="Liberation Sans, sans-serif" font-size="11" fill="#111" letter-spacing="-0.15">10.753,00</text>
<rect x="611.5" y="429.5" width="35.5" height="15" fill="#f6f6f6" stroke="#8ea0b0" stroke-width="1"/>
<line x1="607" y1="436.5" x2="611" y2="436.5" stroke="#000" stroke-width="1.5"/>
<text x="613.5" y="441" font-family="Liberation Sans, sans-serif" font-size="11" fill="#111" letter-spacing="-0.3">786,43</text>
</svg>
</body></html>
